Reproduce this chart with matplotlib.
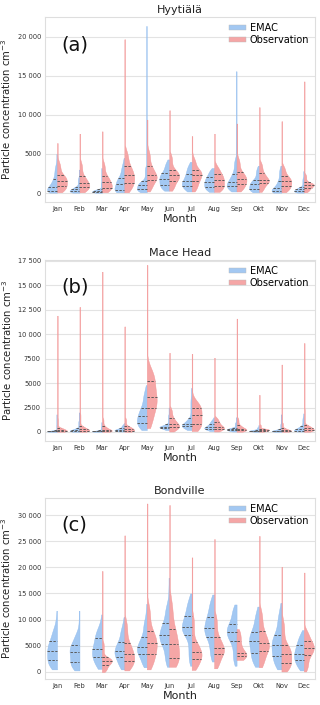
import numpy as np
import matplotlib
matplotlib.use("Agg")
import matplotlib.pyplot as plt
from matplotlib.patches import Patch
from matplotlib.ticker import FuncFormatter, MultipleLocator

months = ["Jan", "Feb", "Mar", "Apr", "May", "Jun", "Jul", "Aug", "Sep", "Okt", "Nov", "Dec"]
stations = ["Hyytiälä", "Mace Head", "Bondville"]
panel_tags = ["(a)", "(b)", "(c)"]
series_names = ["EMAC", "Observation"]

# each row: [min, q25, median, q75, p95 (top of bulk), max]
hyy_emac = [
    [50, 300, 800, 1800, 3500, 5000],
    [50, 200, 450, 800, 2000, 3000],
    [30, 150, 300, 500, 1500, 3200],
    [100, 350, 1200, 1950, 3500, 4500],
    [100, 450, 1000, 1500, 3500, 21400],
    [300, 1050, 1850, 2550, 3800, 4300],
    [200, 950, 1500, 2450, 3500, 4000],
    [150, 770, 1400, 2050, 2900, 3200],
    [200, 850, 1400, 2450, 4500, 15600],
    [100, 500, 1100, 1650, 3000, 3500],
    [50, 200, 600, 1500, 3000, 3500],
    [50, 200, 450, 750, 2000, 2800],
]
hyy_obs = [
    [100, 850, 1600, 2300, 4000, 6400],
    [100, 750, 1300, 2150, 4000, 7600],
    [100, 700, 1350, 2200, 4000, 7900],
    [100, 1300, 2250, 3400, 5500, 19700],
    [200, 1650, 2250, 3400, 5500, 9400],
    [300, 1600, 2250, 3000, 5000, 10600],
    [200, 1500, 2350, 3000, 4500, 7300],
    [150, 850, 1650, 2400, 3500, 7600],
    [200, 1150, 1850, 2650, 4500, 8900],
    [150, 1300, 1700, 2550, 4000, 11000],
    [100, 850, 1500, 2150, 3500, 9200],
    [100, 700, 1050, 1350, 2500, 14300],
]
mace_emac = [
    [20, 50, 100, 200, 800, 1800],
    [30, 100, 200, 400, 1200, 2000],
    [20, 50, 100, 200, 600, 1000],
    [50, 150, 250, 400, 700, 900],
    [200, 900, 1600, 2500, 4000, 4800],
    [200, 450, 550, 800, 1800, 2500],
    [200, 600, 800, 1400, 3500, 4500],
    [100, 350, 500, 800, 1200, 1500],
    [50, 200, 300, 450, 1000, 1500],
    [20, 100, 150, 250, 500, 700],
    [20, 80, 150, 300, 900, 1800],
    [50, 150, 300, 600, 1500, 1900],
]
mace_obs = [
    [30, 100, 250, 450, 1500, 11900],
    [30, 150, 300, 600, 2000, 12800],
    [30, 100, 250, 600, 1500, 16400],
    [30, 150, 350, 600, 1500, 10800],
    [400, 2500, 3600, 5250, 6500, 17100],
    [50, 500, 800, 1400, 2500, 8100],
    [100, 800, 1700, 2500, 3200, 8000],
    [50, 350, 550, 1000, 1500, 7600],
    [30, 200, 350, 700, 1500, 11600],
    [30, 150, 250, 350, 800, 3800],
    [30, 100, 200, 400, 1000, 6900],
    [30, 200, 400, 700, 2500, 9100],
]
bond_emac = [
    [500, 2250, 4100, 5850, 8500, 11700],
    [300, 1900, 3800, 5200, 7500, 11700],
    [600, 2800, 4300, 6400, 8500, 11000],
    [500, 2800, 4100, 5750, 8500, 10500],
    [900, 3500, 4700, 6600, 10000, 13000],
    [1000, 5400, 7100, 9300, 13000, 18000],
    [1200, 7100, 8650, 10750, 13500, 15000],
    [2000, 6600, 8400, 10550, 13500, 14800],
    [1200, 5900, 7650, 9250, 12000, 12900],
    [1000, 3600, 5900, 7650, 11000, 12500],
    [500, 3000, 5150, 7100, 11000, 13200],
    [300, 2200, 3500, 5150, 7000, 8000],
]
bond_obs = [
    None,
    None,
    [0, 1400, 2150, 2800, 6000, 19300],
    [300, 2050, 3500, 5550, 10000, 26100],
    [500, 3500, 5550, 7800, 13000, 32200],
    [1000, 2700, 5400, 8300, 14000, 31900],
    [400, 2500, 3800, 5650, 11000, 21900],
    [700, 3400, 4600, 6600, 11000, 25400],
    [2300, 3100, 3700, 5850, 7800, 8200],
    [900, 4050, 5450, 7750, 12000, 26000],
    [100, 1700, 3500, 5150, 10000, 20100],
    [100, 3250, 4600, 5900, 8000, 19000],
]

panel_data = [(hyy_emac, hyy_obs), (mace_emac, mace_obs), (bond_emac, bond_obs)]
ylims = [(-1150, 22560), (-920, 17600), (-1340, 33250)]
ysteps = [5000, 2500, 5000]

col_emac = "#a3c8f2"
col_obs = "#f5a6a6"
edge_emac = "#8fbbee"
edge_obs = "#f29494"
qcol = "#5a5a5a"

PROBS = [0.0, 0.25, 0.5, 0.75, 0.95, 1.0]


def half_profile(q, w=0.44, floor=0.03):
    knots = np.array(q, dtype=float)
    lo, hi = knots[0], knots[-1]
    n = 2000
    y = np.linspace(lo, hi, n)
    dens = np.zeros(n)
    for i in range(len(knots) - 1):
        a, b = knots[i], knots[i + 1]
        mask = (y >= a) & (y <= b)
        dens[mask] = (PROBS[i + 1] - PROBS[i]) / max(b - a, 1e-9)
    dy = (hi - lo) / (n - 1)
    sigma = 0.3 * (knots[3] - knots[1]) / dy
    sigma = max(sigma, 1.0)
    k = np.arange(-int(3 * sigma), int(3 * sigma) + 1)
    kern = np.exp(-0.5 * (k / sigma) ** 2)
    kern /= kern.sum()
    pad = len(k) // 2
    dpad = np.concatenate([np.zeros(pad), dens, np.zeros(pad)])
    sm = np.convolve(dpad, kern, mode="same")[pad:pad + n]
    width = sm / sm.max() * w
    width = np.maximum(width, floor)
    return y, width


def draw_half(ax, x, q, side, fc, ec):
    y, wd = half_profile(q)
    if side < 0:
        ax.fill_betweenx(y, x - wd, x, facecolor=fc, edgecolor=ec, linewidth=0.3, zorder=2)
    else:
        ax.fill_betweenx(y, x, x + wd, facecolor=fc, edgecolor=ec, linewidth=0.3, zorder=2)
    for val in q[1:4]:
        wv = np.interp(val, y, wd)
        xs = [x - wv, x] if side < 0 else [x, x + wv]
        ax.plot(xs, [val, val], color=qcol, lw=0.7, ls=(0, (2.5, 1.5)), zorder=3)


def fmt(v, pos):
    v = int(round(v))
    if abs(v) >= 10000:
        s = f"{v:,}".replace(",", " ")
        return s
    return str(v)


fig = plt.figure(figsize=(3.2, 7.05), dpi=100)
axes_rects = [
    [0.141, 0.7135, 0.843, 0.2624],
    [0.141, 0.3745, 0.843, 0.2567],
    [0.141, 0.0369, 0.843, 0.2567],
]

for pi in range(3):
    ax = fig.add_axes(axes_rects[pi])
    emac, obs = panel_data[pi]
    for i in range(len(months)):
        if emac[i] is not None:
            draw_half(ax, i, emac[i], -1, col_emac, edge_emac)
        if obs[i] is not None:
            draw_half(ax, i, obs[i], +1, col_obs, edge_obs)
    ax.set_xlim(-0.53, 11.49)
    ax.set_ylim(*ylims[pi])
    ax.set_xticks(range(len(months)))
    ax.set_xticklabels(months)
    ax.yaxis.set_major_locator(MultipleLocator(ysteps[pi]))
    ax.yaxis.set_major_formatter(FuncFormatter(fmt))
    ax.tick_params(axis="both", length=0, labelsize=4.8, colors="#333333", pad=3)
    ax.grid(axis="y", color="#e3e3e3", lw=0.8, zorder=0)
    ax.set_axisbelow(True)
    for sp in ax.spines.values():
        sp.set_color("#dedede")
        sp.set_linewidth(0.8)
    ax.set_title(stations[pi], fontsize=8, pad=3, color="#222222")
    ax.set_xlabel("Month", fontsize=8, labelpad=1, color="#222222")
    ax.set_ylabel("Particle concentration cm$^{-3}$", fontsize=7.3, labelpad=3, color="#222222")
    ax.text(0.06, 0.85, panel_tags[pi], transform=ax.transAxes, fontsize=14,
            va="center", ha="left", color="#111111")
    handles = [Patch(facecolor=col_emac, edgecolor="#bbbbbb", lw=0.3),
               Patch(facecolor=col_obs, edgecolor="#bbbbbb", lw=0.3)]
    ax.legend(handles, series_names, loc="upper right", frameon=False, fontsize=7,
              handlelength=1.7, handleheight=0.45, handletextpad=0.4,
              borderaxespad=0.2, labelspacing=0.2)

fig.savefig("out.png", dpi=100)
